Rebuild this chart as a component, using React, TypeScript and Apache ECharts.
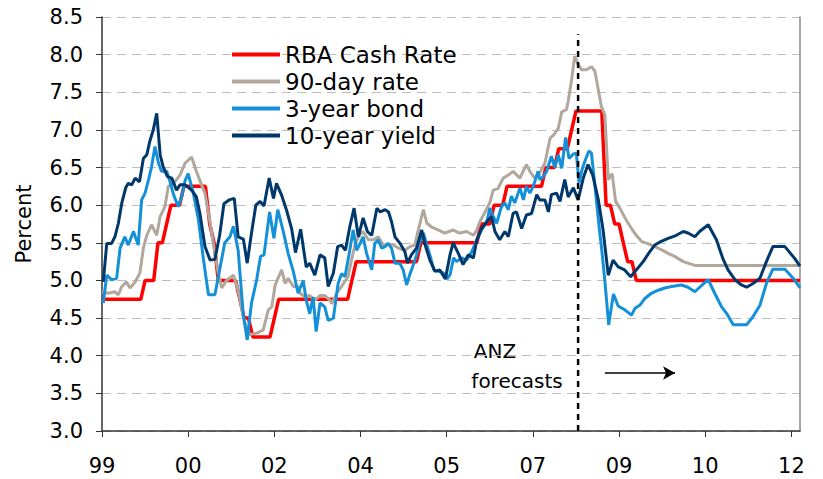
import React, { useEffect, useRef } from "react";
import * as echarts from "echarts";

// x = months since Jan 1999
const xTickLabels = ["99", "00", "02", "04", "05", "07", "09", "10", "12"];
const seriesNames = ["RBA Cash Rate", "90-day rate", "3-year bond", "10-year yield"];

const cashRate: [number, number][] = [
  [0, 4.75], [9, 4.75], [10, 5.0], [12, 5.0], [13, 5.5], [14, 5.5], [15, 5.75], [16, 6.0], [18, 6.0], [19, 6.25],
  [24, 6.25], [25, 5.75], [26, 5.5], [27, 5.0], [31, 5.0], [32, 4.75], [33, 4.5], [34, 4.5], [35, 4.25], [39, 4.25],
  [40, 4.5], [41, 4.75], [57, 4.75], [58, 5.0], [59, 5.25], [73, 5.25], [74, 5.5], [87, 5.5], [88, 5.75], [90, 5.75],
  [91, 6.0], [93, 6.0], [94, 6.25], [102, 6.25], [103, 6.5], [105, 6.5], [106, 6.75], [108, 6.75], [109, 7.0],
  [110, 7.25], [116, 7.25], [117, 6.0], [118, 6.0], [119, 5.75], [120, 5.75], [121, 5.5], [122, 5.25], [123, 5.25],
  [124, 5.0], [162, 5.0],
];

const rate90: [number, number][] = [
  [0, 4.85], [1.5, 4.83], [3, 4.85], [3.8, 4.81], [4.6, 4.92], [5.7, 4.98], [6.5, 4.9], [7.7, 4.98], [8.8, 5.1],
  [9.6, 5.43], [10.4, 5.6], [11.5, 5.74], [12.7, 5.6], [13.5, 5.85], [14.6, 5.98], [15.4, 6.25], [16.6, 6.29],
  [18.1, 6.4], [19.3, 6.56], [20.8, 6.64], [21.9, 6.45], [23.1, 6.27], [23.9, 6.16], [25.1, 5.76], [25.8, 5.5],
  [27, 5.09], [27.8, 4.9], [28.9, 5.0], [30.5, 5.07], [31.6, 4.87], [32.8, 4.52], [33.2, 4.43], [34.3, 4.28],
  [35.9, 4.3], [37.4, 4.34], [38.6, 4.61], [39.4, 4.65], [40.2, 4.94], [41, 5.05], [41.7, 5.14], [42.5, 4.96],
  [43.2, 5.03], [44.4, 4.92], [45.5, 4.92], [46, 4.83], [47.1, 4.78], [48.2, 4.8], [49.4, 4.74], [50.6, 4.8],
  [51.7, 4.8], [52.9, 4.74], [53.3, 4.69], [54.5, 4.83], [55.6, 4.92], [57.1, 5.05], [57.9, 5.27], [58.7, 5.47],
  [59.5, 5.58], [60.6, 5.65], [61.8, 5.54], [63, 5.54], [64.1, 5.58], [65.3, 5.47], [66.4, 5.49], [67.6, 5.47],
  [68.8, 5.43], [70.3, 5.4], [71.5, 5.45], [72.6, 5.47], [73.4, 5.67], [74.6, 5.94], [75.4, 5.76], [76.5, 5.71],
  [78.1, 5.67], [79.6, 5.63], [81.5, 5.67], [83, 5.63], [84.6, 5.65], [86.2, 5.6], [87, 5.67], [87.7, 5.78],
  [88.9, 5.91], [90, 6.03], [90.8, 6.2], [91.9, 6.22], [93.1, 6.36], [94.3, 6.4], [95.4, 6.45], [97, 6.36],
  [98.5, 6.54], [99.3, 6.45], [100.4, 6.36], [101.6, 6.43], [102.8, 6.56], [104, 6.89], [104.8, 6.93],
  [105.9, 7.02], [106.7, 7.24], [107.8, 7.27], [108.2, 7.38], [109, 7.67], [109.7, 7.98], [110.5, 7.87],
  [111.3, 7.8], [112.4, 7.8], [113.6, 7.84], [114.4, 7.78], [115.1, 7.56], [115.9, 7.31], [116.7, 7.2],
  [117.5, 6.34], [118.4, 6.42], [119.2, 6.05], [120.2, 5.96], [121.7, 5.8], [122.9, 5.69], [124, 5.6],
  [125.2, 5.52], [126.7, 5.49], [128.3, 5.45], [129.8, 5.41], [131.4, 5.36], [132.9, 5.32], [134.9, 5.25],
  [137.6, 5.2], [162, 5.2],
];

const bond3y: [number, number][] = [
  [0.3, 4.7], [1.1, 5.07], [2.2, 5.01], [3.4, 5.03], [4.2, 5.43], [5.3, 5.58], [6.1, 5.47], [7.3, 5.65], [8.4, 5.47],
  [9.2, 6.07], [10, 6.16], [10.8, 6.34], [11.5, 6.51], [12.3, 6.78], [13.1, 6.56], [13.8, 6.45], [15, 6.45],
  [15.8, 6.31], [16.6, 6.14], [17.7, 5.98], [18.5, 6.11], [19.3, 6.33], [20, 6.42], [21.2, 6.16], [22.4, 5.8],
  [23.5, 5.3], [24.7, 4.81], [26.2, 4.81], [27.3, 5.14], [28.5, 5.5], [29.7, 5.58], [30.5, 5.72], [31.6, 5.4],
  [32.8, 4.54], [33.7, 4.21], [34.7, 4.7], [35.9, 5.01], [36.8, 5.32], [37.6, 5.34], [38.9, 5.91], [39.9, 5.56],
  [40.8, 5.94], [42, 5.67], [43.2, 5.36], [44.4, 5.12], [45.5, 4.83], [46.7, 5.0], [47.4, 4.74], [48.2, 4.56],
  [49, 4.78], [49.7, 4.32], [50.6, 4.7], [51.7, 4.65], [52.5, 4.47], [53.7, 4.5], [54.8, 4.96], [55.6, 5.09],
  [56.4, 5.05], [57.5, 5.4], [58.3, 5.67], [59.1, 5.4], [59.9, 5.49], [60.6, 5.58], [61.4, 5.36], [62.6, 5.14],
  [63.3, 5.49], [64.1, 5.54], [64.9, 5.43], [65.7, 5.45], [66.4, 5.49], [67.2, 5.43], [68, 5.23], [69.1, 5.23],
  [69.9, 5.14], [70.7, 4.94], [71.5, 5.09], [72.2, 5.2], [73, 5.34], [73.8, 5.51], [74.6, 5.63], [75.4, 5.47],
  [76.2, 5.32], [77, 5.14], [78.1, 5.12], [79.2, 5.1], [80.1, 5.02], [80.8, 5.08], [81.6, 5.3], [82.3, 5.25],
  [83.5, 5.3], [84.6, 5.27], [85.8, 5.38], [87, 5.54], [88.1, 5.67], [89.3, 5.78], [90, 5.96], [90.8, 5.85],
  [91.6, 5.76], [92.7, 5.98], [93.5, 6.03], [94.3, 5.94], [95, 6.12], [95.8, 6.03], [97, 6.23], [97.8, 6.07],
  [98.5, 6.25], [99.3, 6.16], [100.1, 6.25], [101.2, 6.45], [101.6, 6.34], [102.4, 6.38], [103.2, 6.45],
  [104.3, 6.65], [105.1, 6.5], [105.9, 6.67], [106.7, 6.49], [107.6, 6.9], [108.4, 6.62], [109.4, 6.68],
  [110.1, 6.69], [110.7, 6.3], [111.5, 6.49], [112.3, 6.62], [113, 6.72], [113.6, 6.69], [114.6, 6.15],
  [115.4, 5.7], [116, 5.4], [116.7, 5.0], [117.6, 4.41], [118.7, 4.82], [119.8, 4.66], [121.3, 4.61],
  [122.9, 4.54], [123.7, 4.63], [124.8, 4.67], [126, 4.76], [127.5, 4.83], [129.1, 4.87], [130.6, 4.9],
  [132.2, 4.92], [134.5, 4.94], [136, 4.91], [137.6, 4.85], [139.1, 4.93], [140.7, 5.01], [142.2, 4.83],
  [143.8, 4.65], [145, 4.56], [146.5, 4.41], [149.6, 4.41], [151.1, 4.52], [152.7, 4.67], [154.2, 4.96],
  [155.7, 5.15], [158.5, 5.15], [160.4, 5.03], [162, 4.9],
];

const yield10y: [number, number][] = [
  [0.3, 4.98], [1.1, 5.49], [2.2, 5.49], [3, 5.58], [3.8, 5.76], [4.6, 6.03], [5.5, 6.23], [6.1, 6.29], [6.9, 6.27],
  [7.7, 6.36], [8.7, 6.31], [9.6, 6.62], [10.4, 6.67], [11.1, 6.85], [11.9, 7.0], [12.7, 7.22], [13.5, 6.67],
  [14.2, 6.51], [15.2, 6.38], [16.2, 6.36], [17.3, 6.2], [18.1, 6.27], [19.3, 6.27], [20.8, 6.2], [21.9, 6.11],
  [22.7, 5.9], [23.9, 5.45], [25.1, 5.27], [26.2, 5.28], [27.3, 5.6], [28.3, 6.02], [29.5, 6.07], [30.7, 6.09],
  [31.6, 5.58], [32.8, 5.55], [33.7, 5.23], [34.7, 5.63], [35.7, 6.0], [36.7, 6.05], [37.6, 5.99], [38.8, 6.36],
  [39.8, 6.09], [40.5, 6.29], [41.7, 6.13], [42.8, 5.94], [44, 5.69], [44.9, 5.37], [46.1, 5.68], [47.4, 5.18],
  [48.2, 5.23], [49.4, 5.07], [50.6, 5.34], [51.7, 5.3], [52.5, 4.92], [53.7, 5.1], [54.7, 5.45], [55.6, 5.47],
  [56.5, 5.4], [57.5, 5.71], [58.5, 5.96], [59.5, 5.58], [60.6, 5.83], [61.6, 5.65], [62.6, 5.6], [63.8, 5.96],
  [64.6, 5.91], [65.7, 5.94], [66.5, 5.91], [67.2, 5.78], [68, 5.58], [69.2, 5.49], [70.3, 5.38], [70.9, 5.23],
  [71.8, 5.34], [73, 5.43], [74.2, 5.67], [74.9, 5.49], [76.1, 5.27], [77.3, 5.12], [78.4, 5.14], [79.7, 5.02],
  [80.8, 5.35], [81.5, 5.5], [82.7, 5.36], [83.8, 5.21], [85, 5.34], [86.2, 5.3], [87, 5.54], [88.1, 5.69],
  [89.3, 5.78], [90.4, 5.85], [91.2, 5.65], [92.3, 5.54], [93.5, 5.65], [94.3, 5.58], [95.4, 5.89], [96.2, 5.91],
  [97.4, 5.69], [98.5, 5.87], [99.7, 5.89], [100.9, 6.14], [101.6, 6.07], [102.8, 6.07], [103.6, 5.91],
  [104.3, 6.14], [105.5, 6.16], [106.3, 6.05], [107.4, 6.34], [108.2, 6.11], [109.4, 6.23], [110.5, 6.07],
  [111.7, 6.36], [112.8, 6.54], [113.9, 6.4], [115.2, 6.07], [116.3, 5.67], [117.5, 5.07], [118.6, 5.27],
  [119.8, 5.18], [121.3, 5.14], [122.7, 5.05], [124, 5.14], [125.6, 5.25], [127.1, 5.38], [128.3, 5.47],
  [129.8, 5.52], [131.4, 5.56], [133.3, 5.6], [134.9, 5.65], [136, 5.63], [137.6, 5.58], [138.7, 5.65],
  [140.7, 5.74], [142.6, 5.54], [144.1, 5.29], [145.3, 5.14], [146.9, 5.01], [148.4, 4.94], [149.6, 4.91],
  [151.1, 4.96], [152.7, 5.03], [154.2, 5.25], [155.7, 5.45], [158.5, 5.45], [160.8, 5.29], [162, 5.19],
];

const forecastStart = 110.5;
const forecastLine: [number, number][] = [[forecastStart, 3.0], [forecastStart, 8.27]];
const arrowFrom: [number, number] = [116.7, 3.77];
const arrowTo: [number, number] = [133, 3.77];

const FONT = "DejaVu Sans";

export default function App() {
  const ref = useRef<HTMLDivElement>(null);
  useEffect(() => {
    if (!ref.current) return;
    const chart = echarts.init(ref.current, undefined, { renderer: "svg" });
    const colors = ["#FF0000", "#B1A79D", "#1490D8", "#00386B"];
    const datasets = [cashRate, rate90, bond3y, yield10y];
    chart.setOption({
      animation: false,
      backgroundColor: "#ffffff",
      textStyle: { fontFamily: FONT },
      grid: { left: 102, right: 23, top: 17, bottom: 48, containLabel: false },
      legend: {
        data: seriesNames,
        orient: "vertical",
        left: 227,
        top: 38,
        icon: "rect",
        itemWidth: 48,
        itemHeight: 4,
        itemGap: 4,
        itemTextGap: 5,
        itemStyle: { borderWidth: 0 },
        textStyle: { fontFamily: FONT, fontSize: 23, color: "#000", lineHeight: 22, padding: [0, 0, 0, 0] },
      },
      xAxis: {
        type: "value",
        min: 0,
        max: 162,
        interval: 20,
        splitLine: { show: false },
        axisLine: { show: true, lineStyle: { color: "#333", width: 1.5 } },
        axisTick: { show: true, inside: false, length: 6, lineStyle: { color: "#333" } },
        axisLabel: {
          margin: 24,
          fontSize: 21,
          color: "#000",
          fontFamily: FONT,
          showMaxLabel: false,
          formatter: (v: number) => (v % 20 === 0 ? xTickLabels[v / 20] ?? "" : ""),
        },
      },
      yAxis: [
        {
          type: "value",
          min: 3,
          max: 8.5,
          interval: 0.5,
          name: "Percent",
          nameLocation: "middle",
          nameRotate: 90,
          nameGap: 68,
          nameTextStyle: { fontSize: 21, color: "#000", fontFamily: FONT },
          axisLine: { show: true, lineStyle: { color: "#333", width: 1.5 } },
          axisTick: { show: true, inside: false, length: 6, lineStyle: { color: "#333" } },
          axisLabel: { margin: 19, fontSize: 21, color: "#000", fontFamily: FONT, formatter: (v: number) => v.toFixed(1) },
          splitLine: { show: true, lineStyle: { color: "#BDBDBD", type: [9, 6], width: 1 } },
        },
        {
          type: "value",
          position: "right",
          min: 3,
          max: 8.5,
          axisLine: { show: true, lineStyle: { color: "#8a8a8a", width: 1.5 } },
          axisTick: { show: false },
          axisLabel: { show: false },
          splitLine: { show: false },
        },
      ],
      series: [
        ...seriesNames.map((name, i) => ({
          name,
          type: "line",
          data: datasets[i],
          showSymbol: false,
          symbol: "none",
          color: colors[i],
          lineStyle: { color: colors[i], width: i === 0 ? 3.5 : 3 },
          z: 2 + i,
        })),
        {
          name: "forecast",
          type: "line",
          data: forecastLine,
          showSymbol: false,
          symbol: "none",
          lineStyle: { color: "#000", width: 2.5, type: [6, 5] },
          z: 10,
          markLine: {
            silent: true,
            symbol: ["none", "arrow"],
            symbolSize: [10, 12],
            label: { show: false },
            lineStyle: { color: "#000", width: 1.5, type: "solid" },
            data: [[{ coord: arrowFrom }, { coord: arrowTo }]],
          },
        },
      ],
      graphic: [
        { type: "text", x: 495, y: 351, style: { text: "ANZ", fontSize: 20, fontFamily: FONT, fill: "#000", align: "center", verticalAlign: "middle" } },
        { type: "text", x: 517, y: 381, style: { text: "forecasts", fontSize: 20, fontFamily: FONT, fill: "#000", align: "center", verticalAlign: "middle" } },
      ],
    });
    return () => chart.dispose();
  }, []);
  return <div ref={ref} style={{ position: "fixed", left: 0, top: 0, width: 823, height: 479 }} />;
}
